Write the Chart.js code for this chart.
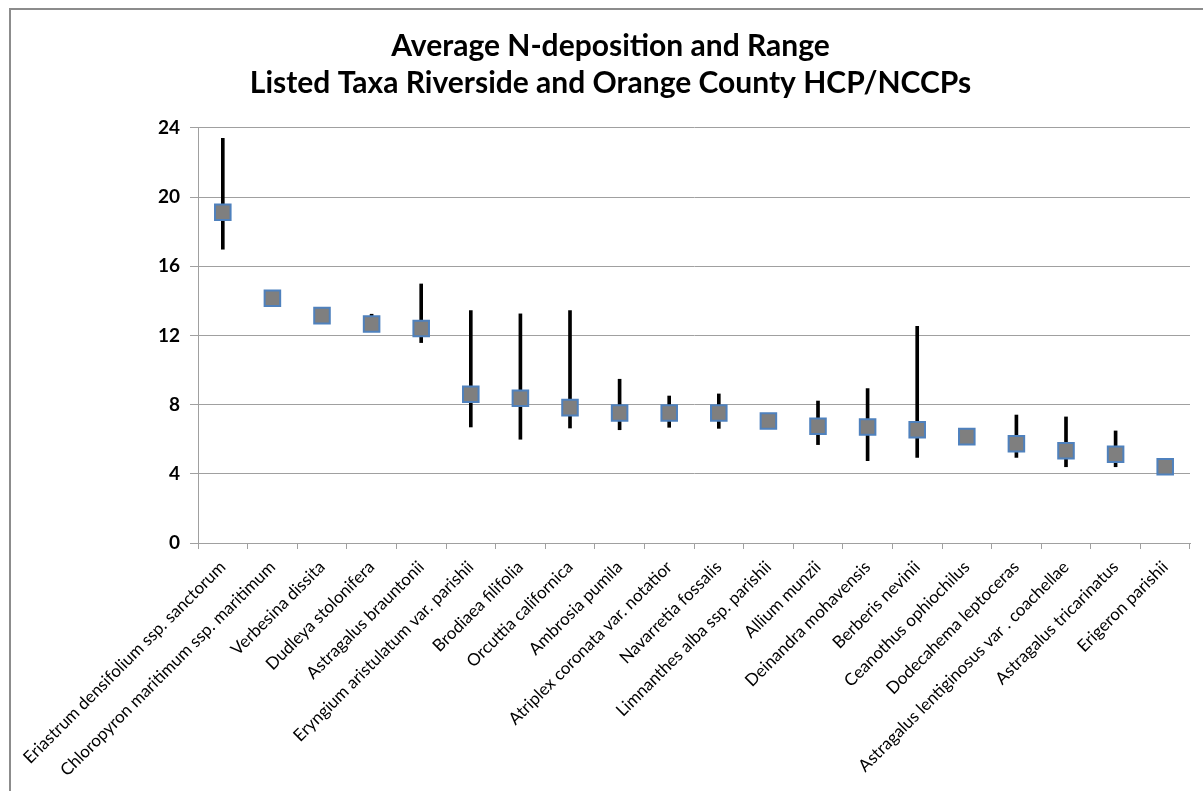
<!DOCTYPE html>
<html>
<head>
<meta charset="utf-8">
<script src="https://cdn.jsdelivr.net/npm/chart.js@4/dist/chart.umd.min.js"></script>
<style>
  html, body { margin: 0; padding: 0; background: #fff; }
  #frame { position: absolute; left: 9px; top: 8px; width: 1194px; height: 783px;
           border-left: 2px solid #8c8c8c; border-top: 2px solid #8c8c8c; box-sizing: border-box; }
  #myChart { position: absolute; left: 0; top: 0; }
</style>
</head>
<body>
<div id="frame"></div>
<canvas id="myChart" width="1203" height="791"></canvas>
<script>
const taxa = [
  'Eriastrum densifolium ssp. sanctorum',
  'Chloropyron maritimum ssp. maritimum',
  'Verbesina dissita',
  'Dudleya stolonifera',
  'Astragalus brauntonii',
  'Eryngium aristulatum var. parishii',
  'Brodiaea filifolia',
  'Orcuttia californica',
  'Ambrosia pumila',
  'Atriplex coronata var. notatior',
  'Navarretia fossalis',
  'Limnanthes alba ssp. parishii',
  'Allium munzii',
  'Deinandra mohavensis',
  'Berberis nevinii',
  'Ceanothus ophiochilus',
  'Dodecahema leptoceras',
  'Astragalus lentiginosus var . coachellae',
  'Astragalus tricarinatus',
  'Erigeron parishii'
];

// average N-deposition per taxon
const avgDep = [19.13, 14.15, 13.15, 12.67, 12.4, 8.6, 8.37, 7.83, 7.52, 7.52,
                7.52, 7.06, 6.75, 6.71, 6.55, 6.15, 5.74, 5.34, 5.13, 4.41];
// range (min / max), null where no range shown
const minDep = [16.99, null, null, 12.3, 11.59, 6.71, 6.0, 6.65, 6.55, 6.69,
                6.63, null, 5.69, 4.76, 4.95, null, 4.95, 4.41, 4.41, null];
const maxDep = [23.4, null, null, 13.23, 14.98, 13.44, 13.25, 13.44, 9.47, 8.5,
                8.62, null, 8.21, 8.93, 12.53, null, 7.4, 7.29, 6.48, null];

const yTicks = [0, 4, 8, 12, 16, 20, 24];

const rangeData = minDep.map((lo, i) => lo === null ? null : [lo, maxDep[i]]);

const FONT = 'Lato, "Open Sans", sans-serif';

new Chart(document.getElementById('myChart'), {
  type: 'bar',
  data: {
    labels: taxa,
    datasets: [
      {
        type: 'line',
        label: 'Average',
        data: avgDep,
        showLine: false,
        pointStyle: 'rect',
        pointRadius: 11,
        pointBackgroundColor: '#7f7f7f',
        pointBorderColor: '#4f81bd',
        pointBorderWidth: 2,
        order: 0
      },
      {
        label: 'Range',
        data: rangeData,
        backgroundColor: '#000',
        barThickness: 3,
        order: 1
      }
    ]
  },
  options: {
    responsive: false,
    animation: false,
    layout: { padding: { left: 28, right: 10, top: 0, bottom: 0 } },
    plugins: {
      legend: { display: false },
      tooltip: { enabled: false },
      title: {
        display: true,
        text: ['Average N-deposition and Range', 'Listed Taxa Riverside and Orange County HCP/NCCPs'],
        color: '#000',
        font: { family: FONT, size: 30, weight: 'bold', lineHeight: 1.233 },
        padding: { top: 28, bottom: 26 }
      }
    },
    scales: {
      x: {
        offset: true,
        grid: { display: true, drawOnChartArea: false, drawTicks: true, tickLength: 6, color: '#a0a0a0', offset: true },
        border: { display: true, color: '#a0a0a0', width: 1 },
        ticks: {
          autoSkip: false,
          maxRotation: 45,
          minRotation: 45,
          color: '#000',
          padding: 8,
          font: { family: FONT, size: 17 }
        },
        afterFit: function (scale) {
          scale.height = 248;
          scale.paddingLeft = 0;
          scale.paddingRight = 0;
        }
      },
      y: {
        min: 0,
        max: 24,
        afterBuildTicks: function (scale) { scale.ticks = yTicks.map(v => ({ value: v })); },
        grid: { color: '#a0a0a0', tickLength: 8, drawTicks: true },
        border: { display: true, color: '#a0a0a0', width: 1 },
        ticks: {
          color: '#000',
          padding: 10,
          font: { family: FONT, size: 19, weight: 'bold' }
        },
        afterFit: function (scale) { scale.width = 170; }
      }
    }
  }
});
</script>
</body>
</html>
